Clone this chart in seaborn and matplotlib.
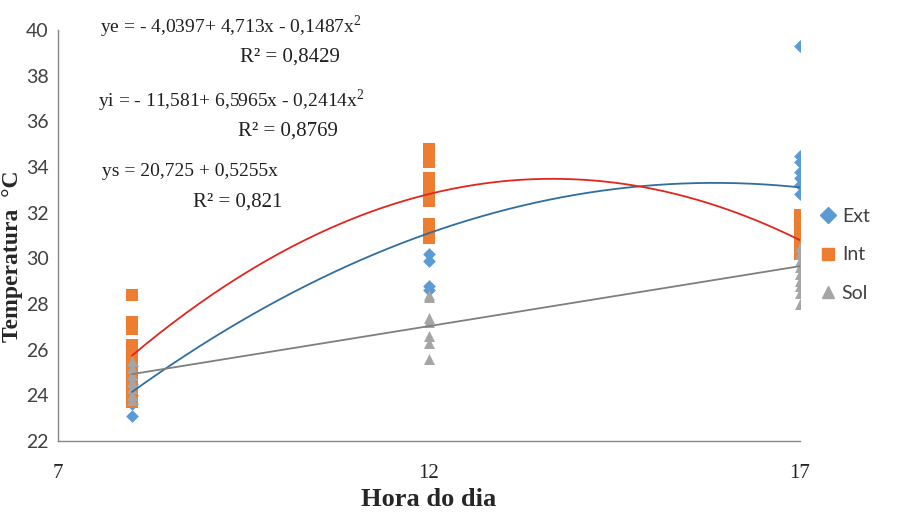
import numpy as np
import pandas as pd
import matplotlib
matplotlib.use("Agg")
import matplotlib.pyplot as plt
import seaborn as sns
from matplotlib.lines import Line2D

# ---- data ----
ext_hour = [8, 8, 8, 8, 8, 8,
            12, 12, 12, 12,
            17, 17, 17, 17, 17, 17, 17]
ext_temp = [23.1, 23.6, 24.0, 24.5, 25.0, 25.3,
            30.2, 29.9, 28.8, 28.6,
            39.3, 34.5, 34.2, 33.8, 33.5, 33.2, 32.8]

int_hour = [8] * 11 + [12] * 10 + [17] * 6
int_temp = [28.4, 27.2, 26.9, 26.2, 26.0, 25.7, 25.3, 24.8, 24.4, 24.0, 23.7,
            34.8, 34.5, 34.2, 33.5, 33.2, 32.9, 32.5, 31.5, 31.2, 30.9,
            31.9, 31.5, 31.2, 30.9, 30.4, 30.2]

sol_hour = [8] * 7 + [12] * 7 + [17] * 9
sol_temp = [25.5, 25.2, 24.9, 24.6, 24.3, 24.0, 23.8,
            28.4, 28.3, 27.4, 27.2, 26.6, 26.3, 25.6,
            30.5, 30.2, 29.9, 29.6, 29.3, 29.0, 28.8, 28.5, 28.0]

# trendline coefficients (c0, c1, c2)
coef_ext = [-4.0397, 4.713, -0.1487]
coef_int = [-11.581, 6.5965, -0.2414]
coef_sol = [20.725, 0.5255, 0.0]

series = ["Ext", "Int", "Sol"]
eq_texts = ["ye = - 4,0397+ 4,713x - 0,1487x$^2$", "R² = 0,8429",
            "yi = - 11,581+ 6,5965x - 0,2414x$^2$", "R² = 0,8769",
            "ys = 20,725 + 0,5255x", "R² = 0,821"]
x_ticks = [7, 12, 17]
y_ticks = list(range(22, 41, 2))

# ---- figure ----
sns.set_style("white")
plt.rcParams["mathtext.fontset"] = "custom"
plt.rcParams["mathtext.rm"] = "Liberation Serif"
fig = plt.figure(figsize=(9.03, 5.15), dpi=100)
ax = fig.add_axes([0.064, 0.1437, 0.822, 0.798])

df = pd.DataFrame({
    "Hora": ext_hour + int_hour + sol_hour,
    "Temp": ext_temp + int_temp + sol_temp,
    "Serie": ["Ext"] * len(ext_hour) + ["Int"] * len(int_hour) + ["Sol"] * len(sol_hour),
})
colors = {"Ext": "#5B9BD5", "Int": "#ED7D31", "Sol": "#A5A5A5"}
markers = {"Ext": "D", "Int": "s", "Sol": "^"}
sizes = {"Ext": 42, "Int": 66, "Sol": 62}
for s in series:
    sub = df[df["Serie"] == s]
    sns.scatterplot(data=sub, x="Hora", y="Temp", color=colors[s], marker=markers[s],
                    s=sizes[s], linewidth=0, ax=ax, legend=False, zorder=3)

xs = np.linspace(8, 17, 200)
line_cols = {"Ext": "#2F6E9E", "Int": "#E0261E", "Sol": "#7F7F7F"}
for s, c in zip(series, [coef_ext, coef_int, coef_sol]):
    ys = c[0] + c[1] * xs + c[2] * xs ** 2
    sns.lineplot(x=xs, y=ys, color=line_cols[s], lw=1.3, ax=ax, zorder=4)

ax.set_xlim(7, 17)
ax.set_ylim(22, 40)
ax.set_xticks(x_ticks)
ax.set_yticks(y_ticks)
ax.set_xticklabels([str(t) for t in x_ticks], family="Liberation Serif", fontsize=15)
ax.set_yticklabels([str(t) for t in y_ticks], family="Lato", fontsize=14, color="#404040")
for side in ["top", "right"]:
    ax.spines[side].set_visible(False)
for side in ["left", "bottom"]:
    ax.spines[side].set_color("#868686")
    ax.spines[side].set_linewidth(1.0)
ax.tick_params(axis="both", direction="inout", length=9, width=1.0, color="#868686", pad=2)
ax.tick_params(axis="x", pad=12)

ax.set_xlabel("Hora do dia", family="Liberation Serif", fontweight="bold", fontsize=19, labelpad=4)
ax.set_ylabel("Temperatura  °C", family="Liberation Serif", fontweight="bold", fontsize=17)
ax.yaxis.set_label_coords(-0.047, 0.45)

# equations
eq_pos = [(100, 27, "left"), (340, 57, "right"), (98, 101, "left"), (338, 131, "right"),
          (102, 172, "left"), (282, 202, "right")]
eq_sizes = [14, 15, 14, 15, 14, 15]
for t, (px, py, ha), fs in zip(eq_texts, eq_pos, eq_sizes):
    fig.text(px / 903, 1 - py / 515, t, family="Liberation Serif", fontsize=fs,
             ha=ha, va="center", color="#202020")

# legend
handles = [Line2D([], [], marker=markers[s], color=colors[s], linestyle="", markersize=8)
           for s in series]
leg = fig.legend(handles, series, loc="center left", bbox_to_anchor=(0.887, 0.505),
                 frameon=False, prop={"family": "Lato", "size": 14}, labelspacing=1.1,
                 handletextpad=0.2, handlelength=1.0)
for t in leg.get_texts():
    t.set_color("#404040")

fig.savefig("out.png", dpi=100)
